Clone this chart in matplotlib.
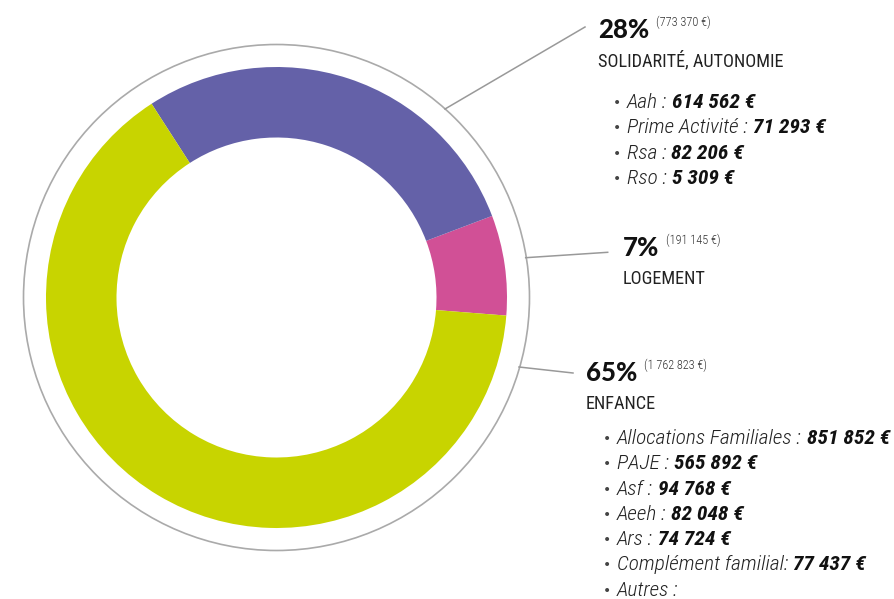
#
#  Donut chart of benefit amounts by category
#
################################################################

import matplotlib
matplotlib.use("Agg")
import matplotlib.pyplot as plt
from matplotlib.patches import Circle
from matplotlib import font_manager as fm

categories = ["LOGEMENT", "SOLIDARITÉ, AUTONOMIE", "ENFANCE"]
amounts = [191145, 773370, 1762823]
colors = ["#D15096", "#6461A8", "#C8D400"]

solidarite_labels = ["Aah :", "Prime Activité :", "Rsa :", "Rso :"]
solidarite_values = [614562, 71293, 82206, 5309]

enfance_labels = ["Allocations Familiales :", "PAJE :", "Asf :", "Aeeh :",
                  "Ars :", "Complément familial:", "Autres :"]
enfance_values = [851852, 565892, 94768, 82048, 74724, 77437, None]

W, H = 894, 599

#  pick a narrow font if one is around
fonts = fm.fontManager.ttflist
names = {f.name for f in fonts}
body = dict(family=["Roboto", "DejaVu Sans"])
narrow = [n for n in names if "Condensed" in n or "Narrow" in n]
if "Roboto Condensed" in names:
    body = dict(family=["Roboto Condensed", "DejaVu Sans"])
elif narrow:
    body = dict(family=[sorted(narrow)[0], "DejaVu Sans"])
elif any(f.name == "DejaVu Sans" and f.stretch == "condensed" for f in fonts):
    body = dict(family=["DejaVu Sans"], fontstretch="condensed")

def fmt(v):
    return f"{v:,}".replace(",", " ") + " €"

def Y(p):
    # pixel row -> data y
    return H - p

fig = plt.figure(figsize=(W/100, H/100), dpi=100)
ax = fig.add_axes([0, 0, 1, 1])

cx, cy = 276.5, Y(297.5)
R = 230.5
ax.pie(amounts, colors=colors, startangle=-4.5, counterclock=True,
       radius=R, center=(cx, cy), wedgeprops=dict(width=R-160, linewidth=0))
ax.add_patch(Circle((cx, cy), 253, fill=False, ec="#aaaaaa", lw=1.2))

ax.set_xlim(0, W)
ax.set_ylim(0, H)
ax.set_aspect("equal")
ax.axis("off")

#  connectors
gl = dict(color="#999999", lw=1.1)
ax.plot([445, 585], [Y(109), Y(27)], **gl)
ax.plot([525.7, 607.7], [Y(257.7), Y(252.3)], **gl)
ax.plot([519, 573], [Y(367), Y(373)], **gl)

total = sum(amounts)
renderer = fig.canvas.get_renderer()

def width(s, **kw):
    t = ax.text(0, 0, s, **kw)
    w = t.get_window_extent(renderer).width
    t.remove()
    return w

#  size the text so the widest strings span what they span in the reference
name_kw = dict(style="italic", fontweight="light", color="#222222", **body)
val_kw = dict(style="italic", fontweight="bold", color="#111111", **body)
w0 = width(enfance_labels[0], fontsize=10, **name_kw) + width(fmt(enfance_values[0]), fontsize=10, **val_kw)
item_size = 10 * 268 / w0
head_size = 10 * 186 / width(categories[1], fontsize=10, **body)
small_size = 10 * 55 / width("(773 370 €)", fontsize=10, fontweight="light", **body)
gap = 5

def header(x, y, i):
    pct = f"{round(100*amounts[i]/total)}%"
    t = ax.text(x, Y(y), pct, fontsize=18.5, fontweight="black", family=["Lato", "DejaVu Sans"],
                va="baseline", ha="left", color="#111111")
    w = t.get_window_extent(renderer).width
    ax.text(x + w + 7, Y(y - 12), "(" + fmt(amounts[i]) + ")", fontsize=small_size,
            fontweight="light", va="baseline", ha="left", color="#333333", **body)
    ax.text(x, Y(y + 28), categories[i], fontsize=head_size,
            va="baseline", ha="left", color="#222222", **body)

def items(x, y0, labels, values):
    for k, (lab, val) in enumerate(zip(labels, values)):
        y = Y(y0 + 25.3*k)
        ax.text(x, y + 1, "•", fontsize=10, family=["DejaVu Sans"], va="baseline",
                ha="left", color="#444444")
        t = ax.text(x + 14, y, lab, fontsize=item_size, va="baseline", ha="left", **name_kw)
        if val is not None:
            w = t.get_window_extent(renderer).width
            ax.text(x + 14 + w + gap, y, fmt(val), fontsize=item_size,
                    va="baseline", ha="left", **val_kw)

header(598, 38, 1)
items(613, 108, solidarite_labels, solidarite_values)
header(623, 256, 0)
header(586, 381, 2)
items(603, 444, enfance_labels, enfance_values)

fig.savefig("out.png", dpi=100)
